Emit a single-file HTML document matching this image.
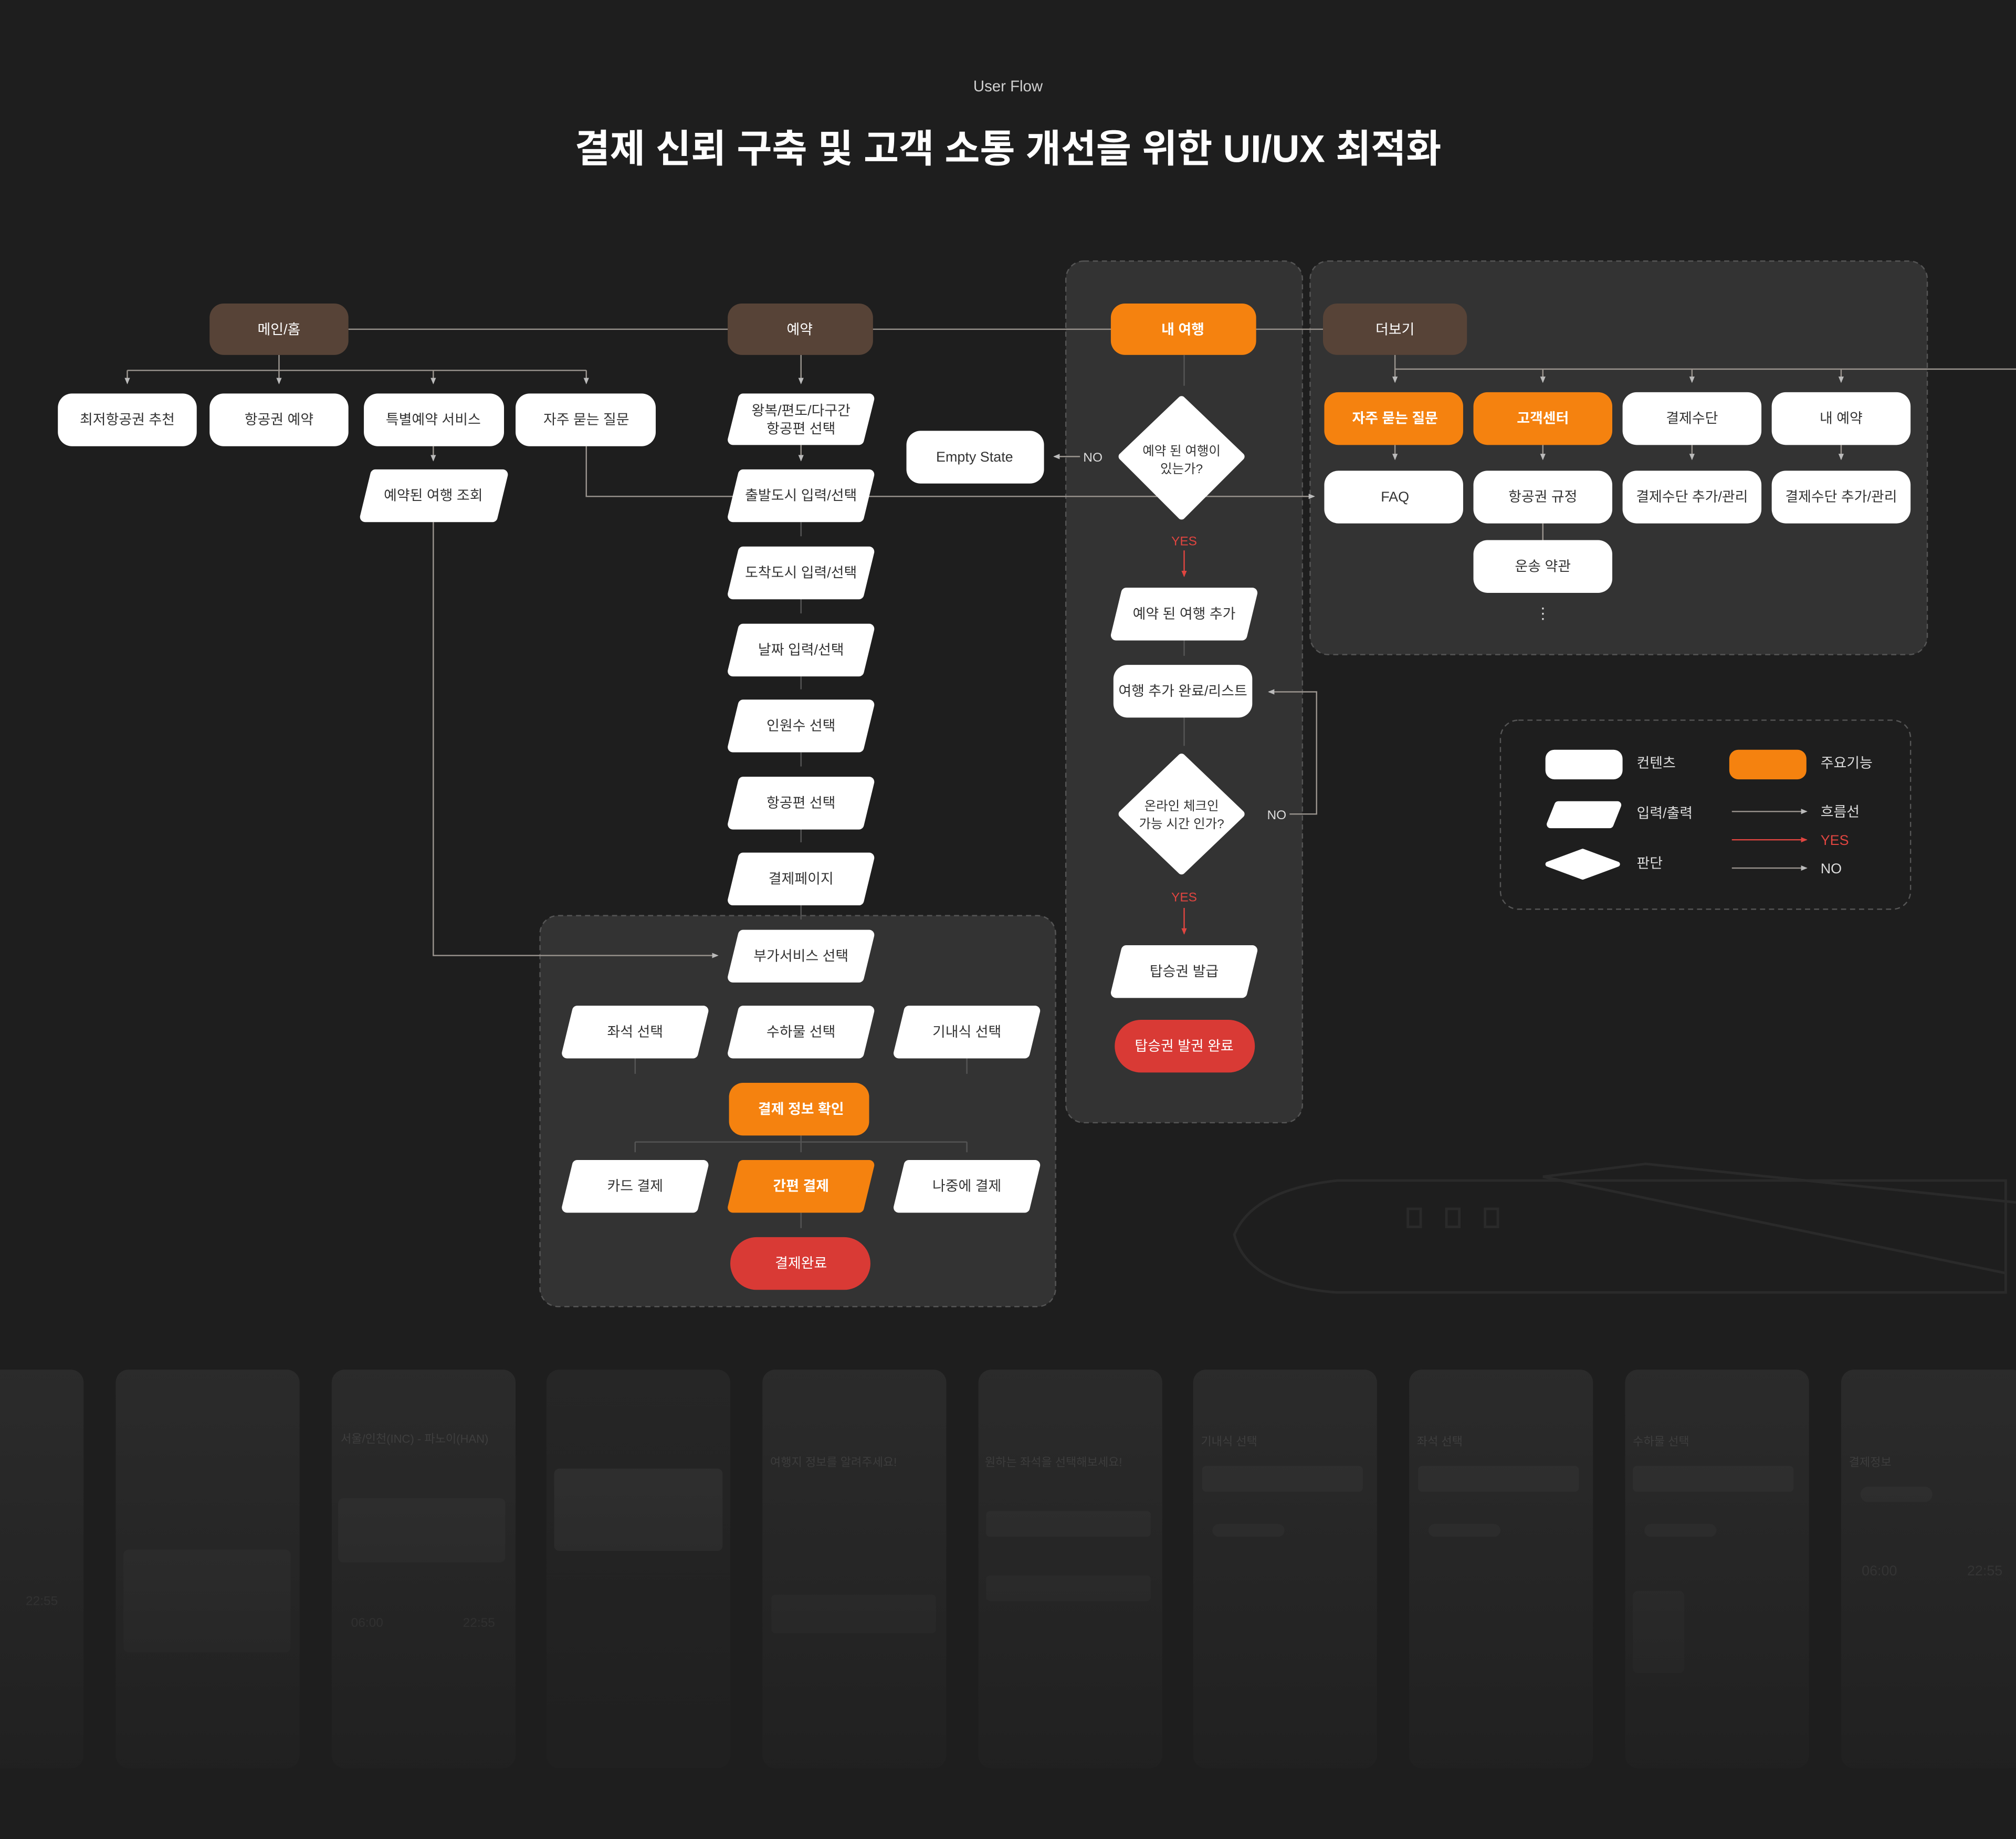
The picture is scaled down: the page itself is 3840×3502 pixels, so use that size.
<!DOCTYPE html>
<html><head><meta charset="utf-8"><style>
html,body{margin:0;padding:0;background:#1e1e1e;}
svg{display:block;}
text{font-family:"Liberation Sans","Noto Sans CJK KR",sans-serif;}
</style></head><body>
<svg width="3840" height="3502" viewBox="0 0 1568 1430" xmlns="http://www.w3.org/2000/svg">
<defs>
<marker id="a" viewBox="0 0 6 6" refX="5" refY="3" markerWidth="5" markerHeight="5" orient="auto"><path d="M0,0.5 L6,3 L0,5.5z" fill="#bbb"/></marker>
<marker id="r" viewBox="0 0 6 6" refX="5" refY="3" markerWidth="5" markerHeight="5" orient="auto"><path d="M0,0.5 L6,3 L0,5.5z" fill="#e04540"/></marker>
<linearGradient id="fade" x1="0" y1="0" x2="0" y2="1"><stop offset="0" stop-color="#1e1e1e" stop-opacity="0"/><stop offset="1" stop-color="#1e1e1e" stop-opacity="0.95"/></linearGradient>
</defs>
<rect width="1568" height="1430" fill="#1e1e1e"/>

<!-- title -->
<text x="784" y="71" font-size="12" fill="#d0d0d0" text-anchor="middle">User Flow</text>
<text x="784" y="126" font-size="30" fill="#ffffff" text-anchor="middle" font-weight="bold" textLength="674" lengthAdjust="spacingAndGlyphs">결제 신뢰 구축 및 고객 소통 개선을 위한 UI/UX 최적화</text>

<!-- airplane faint -->
<g fill="none" stroke="#2a2a2a" stroke-width="2">
<path d="M960,960 Q975,925 1040,918 L1560,918 L1560,1005 L1040,1005 Q970,1000 960,960z"/>
<path d="M1200,915 L1280,905 L1568,935 M1200,915 L1560,990"/>
<rect x="1095" y="940" width="10" height="14"/><rect x="1125" y="940" width="10" height="14"/><rect x="1155" y="940" width="10" height="14"/>
</g>

<!-- panels -->
<rect x="420" y="712" width="401" height="304" rx="14" fill="#333" stroke="#555" stroke-dasharray="4 3"/>
<rect x="829" y="203" width="184" height="670" rx="14" fill="#333" stroke="#555" stroke-dasharray="4 3"/>
<rect x="1019" y="203" width="480" height="306" rx="14" fill="#333" stroke="#555" stroke-dasharray="4 3"/>
<rect x="1167" y="560" width="319" height="147" rx="14" fill="none" stroke="#555" stroke-dasharray="4 3"/>

<!-- connectors -->
<g stroke="#9a948e" stroke-width="1" fill="none">
<line x1="271" y1="256" x2="1029" y2="256"/>
<path d="M217,276 V298" marker-end="url(#a)"/>
<path d="M99,288 H456"/>
<path d="M99,288 V298" marker-end="url(#a)"/>
<path d="M337,288 V298" marker-end="url(#a)"/>
<path d="M456,288 V298" marker-end="url(#a)"/>
<path d="M337,347 V358" marker-end="url(#a)"/>
<path d="M337,406 V743 H558" marker-end="url(#a)"/>
<path d="M456,347 V386 H1022" marker-end="url(#a)"/>
<path d="M623,276 V298" marker-end="url(#a)"/>
<path d="M623,346 V358" marker-end="url(#a)"/>
<path d="M623,406 V417" stroke="#555"/>
<path d="M623,466 V477" stroke="#555"/>
<path d="M623,526 V536" stroke="#555"/>
<path d="M623,585 V596" stroke="#555"/>
<path d="M623,645 V655" stroke="#555"/>
<path d="M623,704 V715" stroke="#555"/>
<path d="M494,823 V835 M752,823 V835" stroke="#555"/>
<path d="M494,888 H752 M494,888 V896 M752,888 V896 M623,883 V896" stroke="#555"/>
<path d="M623,943 V955" stroke="#555"/>
<path d="M921,276 V300" stroke="#555"/>
<path d="M840,355 H820" marker-end="url(#a)"/>
<path d="M921,498 V510" stroke="#555"/>
<path d="M921,558 V580" stroke="#555"/>
<path d="M1003,633 H1024 V538 H987" marker-end="url(#a)"/>
<path d="M1085,276 V287 H1568"/>
<path d="M1085,287 V297" marker-end="url(#a)"/>
<path d="M1200,287 V297" marker-end="url(#a)"/>
<path d="M1316,287 V297" marker-end="url(#a)"/>
<path d="M1432,287 V297" marker-end="url(#a)"/>
<path d="M1085,346 V357" marker-end="url(#a)"/>
<path d="M1200,346 V357" marker-end="url(#a)"/>
<path d="M1316,346 V357" marker-end="url(#a)"/>
<path d="M1432,346 V357" marker-end="url(#a)"/>
<path d="M1200,407 V420"/>
<path d="M1347,631 H1405" marker-end="url(#a)"/>
<path d="M1347,675 H1405" marker-end="url(#a)"/>
</g>
<g stroke="#e04540" stroke-width="1" fill="none">
<path d="M921,428 V448" marker-end="url(#r)"/>
<path d="M921,706 V726" marker-end="url(#r)"/>
<path d="M1347,653 H1405" marker-end="url(#r)"/>
</g>

<!-- main nodes -->
<g font-size="11" text-anchor="middle">
<rect x="163" y="236" width="108" height="40" rx="11" fill="#574337"/><text x="217" y="260" fill="#fff">메인/홈</text>
<rect x="566" y="236" width="113" height="40" rx="11" fill="#574337"/><text x="622" y="260" fill="#fff">예약</text>
<rect x="864" y="236" width="113" height="40" rx="11" fill="#f5820f"/><text x="920" y="260" fill="#fff" font-weight="bold">내 여행</text>
<rect x="1029" y="236" width="112" height="40" rx="11" fill="#574337"/><text x="1085" y="260" fill="#fff">더보기</text>

<g fill="#fff">
<rect x="45" y="306" width="108" height="41" rx="11"/><rect x="163" y="306" width="108" height="41" rx="11"/>
<rect x="283" y="306" width="109" height="41" rx="11"/><rect x="401" y="306" width="109" height="41" rx="11"/>
<rect x="705" y="335" width="107" height="41" rx="11"/>
<rect x="866" y="517" width="108" height="41" rx="11"/>
<rect x="1262" y="305" width="108" height="41" rx="11"/><rect x="1378" y="305" width="108" height="41" rx="11"/>
<rect x="1030" y="366" width="108" height="41" rx="11"/><rect x="1146" y="366" width="108" height="41" rx="11"/>
<rect x="1262" y="366" width="108" height="41" rx="11"/><rect x="1378" y="366" width="108" height="41" rx="11"/>
<rect x="1146" y="420" width="108" height="41" rx="11"/>
<rect x="1202" y="583" width="60" height="23" rx="7"/>
</g>
<g fill="#f5820f">
<rect x="1030" y="305" width="108" height="41" rx="11"/><rect x="1146" y="305" width="108" height="41" rx="11"/>
<rect x="567" y="842" width="109" height="41" rx="11"/>
<rect x="1345" y="583" width="60" height="23" rx="7"/>
</g>
<g fill="#d93a35">
<rect x="568" y="962" width="109" height="41" rx="20.5"/>
<rect x="867" y="793" width="109" height="41" rx="20.5"/>
</g>

<g fill="#fff" stroke="#fff" stroke-width="8" stroke-linejoin="round">
<polygon points="578,310 676,310 668,342 570,342"/>
<polygon points="578,369 676,369 668,402 570,402"/>
<polygon points="578,429 676,429 668,462 570,462"/>
<polygon points="578,489 676,489 668,522 570,522"/>
<polygon points="578,548 676,548 668,581 570,581"/>
<polygon points="578,608 676,608 668,641 570,641"/>
<polygon points="578,667 676,667 668,700 570,700"/>
<polygon points="578,727 676,727 668,760 570,760"/>
<polygon points="449,786 547,786 539,819 441,819"/>
<polygon points="578,786 676,786 668,819 570,819"/>
<polygon points="707,786 805,786 797,819 699,819"/>
<polygon points="449,906 547,906 539,939 441,939"/>
<polygon points="707,906 805,906 797,939 699,939"/>
<polygon points="292,369 391,369 383,402 284,402"/>
<polygon points="876,461 974,461 966,494 868,494"/>
<polygon points="876,739 974,739 966,772 868,772"/>
<polygon points="1212,626 1258,626 1252,641 1206,641" stroke-width="6"/>
</g>
<polygon points="578,906 676,906 668,939 570,939" fill="#f5820f" stroke="#f5820f" stroke-width="8" stroke-linejoin="round"/>

<polygon points="919,311 965,355 919,401 873,355" fill="#fff" stroke="#fff" stroke-width="6" stroke-linejoin="round"/>
<polygon points="919,589 965,633 919,677 873,633" fill="#fff" stroke="#fff" stroke-width="6" stroke-linejoin="round"/>
<polygon points="1231,662 1258,672 1231,682 1204,672" fill="#fff" stroke="#fff" stroke-width="4" stroke-linejoin="round"/>

<g fill="#333">
<text x="99" y="330">최저항공권 추천</text>
<text x="217" y="330">항공권 예약</text>
<text x="337" y="330">특별예약 서비스</text>
<text x="456" y="330">자주 묻는 질문</text>
<text x="337" y="389">예약된 여행 조회</text>
<text x="623" y="323">왕복/편도/다구간</text>
<text x="623" y="337">항공편 선택</text>
<text x="623" y="389">출발도시 입력/선택</text>
<text x="623" y="449">도착도시 입력/선택</text>
<text x="623" y="509">날짜 입력/선택</text>
<text x="623" y="568">인원수 선택</text>
<text x="623" y="628">항공편 선택</text>
<text x="623" y="687">결제페이지</text>
<text x="623" y="747">부가서비스 선택</text>
<text x="494" y="806">좌석 선택</text>
<text x="623" y="806">수하물 선택</text>
<text x="752" y="806">기내식 선택</text>
<text x="494" y="926">카드 결제</text>
<text x="752" y="926">나중에 결제</text>
<text x="758" y="359">Empty State</text>
<text x="919" y="354" font-size="10">예약 된 여행이</text>
<text x="919" y="368" font-size="10">있는가?</text>
<text x="921" y="481">예약 된 여행 추가</text>
<text x="920" y="541">여행 추가 완료/리스트</text>
<text x="919" y="630" font-size="10">온라인 체크인</text>
<text x="919" y="644" font-size="10">가능 시간 인가?</text>
<text x="921" y="759">탑승권 발급</text>
<text x="1316" y="329">결제수단</text>
<text x="1432" y="329">내 예약</text>
<text x="1085" y="390">FAQ</text>
<text x="1200" y="390">항공권 규정</text>
<text x="1316" y="390">결제수단 추가/관리</text>
<text x="1432" y="390">결제수단 추가/관리</text>
<text x="1200" y="444">운송 약관</text>
</g>
<g fill="#fff">
<text x="623" y="866" font-weight="bold">결제 정보 확인</text>
<text x="623" y="926" font-weight="bold">간편 결제</text>
<text x="623" y="986">결제완료</text>
<text x="921" y="817">탑승권 발권 완료</text>
<text x="1085" y="329" font-weight="bold">자주 묻는 질문</text>
<text x="1200" y="329" font-weight="bold">고객센터</text>
</g>
<g font-size="10" fill="#ddd">
<text x="850" y="359">NO</text>
<text x="993" y="637">NO</text>
<text x="1200" y="481" font-size="12">⋮</text>
</g>
<g font-size="10" fill="#e04540">
<text x="921" y="424">YES</text>
<text x="921" y="701">YES</text>
</g>
</g>

<g font-size="11" fill="#ddd">
<text x="1273" y="597">컨텐츠</text>
<text x="1416" y="597">주요기능</text>
<text x="1273" y="636">입력/출력</text>
<text x="1273" y="675">판단</text>
<text x="1416" y="635">흐름선</text>
<text x="1416" y="657" fill="#e04540">YES</text>
<text x="1416" y="679">NO</text>
</g>

<g fill="#2b2b2b">
<rect x="-80" y="1065" width="145" height="310" rx="10"/>
<rect x="90" y="1065" width="143" height="310" rx="10"/>
<rect x="258" y="1065" width="143" height="310" rx="10"/>
<rect x="425" y="1065" width="143" height="310" rx="10" fill="#262626"/>
<rect x="593" y="1065" width="143" height="310" rx="10"/>
<rect x="761" y="1065" width="143" height="310" rx="10"/>
<rect x="928" y="1065" width="143" height="310" rx="10"/>
<rect x="1096" y="1065" width="143" height="310" rx="10"/>
<rect x="1264" y="1065" width="143" height="310" rx="10"/>
<rect x="1432" y="1065" width="143" height="310" rx="10"/>
</g>
<g fill="#333">
<rect x="431" y="1142" width="131" height="64" rx="4"/>
<rect x="263" y="1165" width="130" height="50" rx="4"/>
<rect x="935" y="1140" width="125" height="20" rx="3"/>
<rect x="1103" y="1140" width="125" height="20" rx="3"/>
<rect x="1270" y="1140" width="125" height="20" rx="3"/>
<rect x="1270" y="1237" width="40" height="64" rx="4"/>
<rect x="1447" y="1156" width="56" height="12" rx="6"/>
<rect x="943" y="1185" width="56" height="10" rx="5"/>
<rect x="1111" y="1185" width="56" height="10" rx="5"/>
<rect x="1279" y="1185" width="56" height="10" rx="5"/>
<rect x="600" y="1240" width="128" height="30" rx="3"/>
<rect x="96" y="1205" width="130" height="80" rx="4"/>
<rect x="767" y="1175" width="128" height="20" rx="3"/>
<rect x="767" y="1225" width="128" height="20" rx="3"/>
</g>
<g font-size="9" fill="#444">
<text x="265" y="1122">서울/인천(INC) - 파노이(HAN)</text>
<text x="599" y="1140">여행지 정보를 알려주세요!</text>
<text x="766" y="1140">원하는 좌석을 선택해보세요!</text>
<text x="934" y="1124">기내식 선택</text>
<text x="1102" y="1124">좌석 선택</text>
<text x="1270" y="1124">수하물 선택</text>
<text x="1438" y="1140">결제정보</text>
<text x="1448" y="1225" font-size="11">06:00</text>
<text x="1530" y="1225" font-size="11">22:55</text>
<text x="273" y="1265" font-size="10">06:00</text>
<text x="360" y="1265" font-size="10">22:55</text>
<text x="20" y="1248" font-size="10">22:55</text>
</g>
<rect x="0" y="1060" width="1568" height="370" fill="url(#fade)"/>
</svg>
</body></html>
